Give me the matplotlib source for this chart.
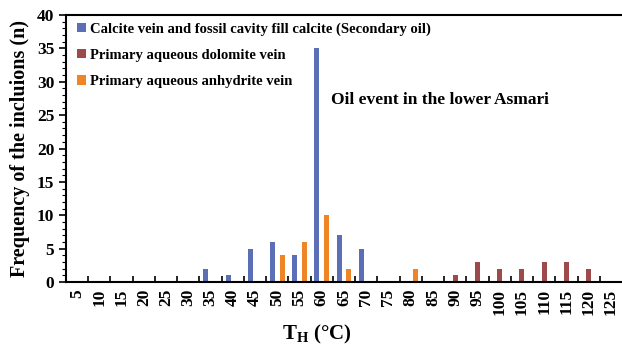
import numpy as np
import matplotlib
matplotlib.use("Agg")
import matplotlib.pyplot as plt
from matplotlib.ticker import MultipleLocator

plt.rcParams['font.family'] = ['Liberation Serif', 'DejaVu Serif']
plt.rcParams['font.weight'] = 'bold'
plt.rcParams['mathtext.fontset'] = 'custom'
plt.rcParams['mathtext.rm'] = 'Liberation Serif:bold'
plt.rcParams['mathtext.bf'] = 'Liberation Serif:bold'

# Datos
categories = [5, 10, 15, 20, 25, 30, 35, 40, 45, 50, 55, 60, 65,
              70, 75, 80, 85, 90, 95, 100, 105, 110, 115, 120, 125]
calcite = [0, 0, 0, 0, 0, 0, 2, 1, 5, 6, 4, 35, 7,
           5, 0, 0, 0, 0, 0, 0, 0, 0, 0, 0, 0]
dolomite = [0, 0, 0, 0, 0, 0, 0, 0, 0, 0, 0, 0, 0,
            0, 0, 0, 0, 1, 3, 2, 2, 3, 3, 2, 0]
anhydrite = [0, 0, 0, 0, 0, 0, 0, 0, 0, 4, 6, 10, 2,
             0, 0, 2, 0, 0, 0, 0, 0, 0, 0, 0, 0]

labels = ["Calcite vein and fossil cavity fill calcite (Secondary oil)",
          "Primary aqueous dolomite vein",
          "Primary aqueous anhydrite vein"]
colors = ["#5B6FB7", "#9C4A4C", "#EE8526"]

x = np.arange(len(categories))
w = 0.215

fig = plt.figure(figsize=(6.22, 3.47), dpi=100)
ax = fig.add_axes([66 / 622, 1 - 282 / 347, 556 / 622, 267 / 347])

ax.bar(x - w, calcite, width=0.225, color=colors[0], label=labels[0])
ax.bar(x, dolomite, width=0.225, color=colors[1], label=labels[1])
ax.bar(x + w, anhydrite, width=0.225, color=colors[2], label=labels[2])

ax.set_xlim(-0.5, len(categories) - 0.5)
ax.set_ylim(0, 40)
ax.set_xticks(x)
ax.set_xticklabels([str(c) for c in categories], rotation=90, fontsize=12.5, fontweight='bold')
ax.set_xticks(x[:-1] + 0.5, minor=True)
ax.tick_params(axis='x', which='major', length=0, pad=5)
ax.tick_params(axis='x', which='minor', direction='in', length=4, width=1.2)

ax.yaxis.set_major_locator(MultipleLocator(5))
ax.yaxis.set_minor_locator(MultipleLocator(1))
ax.tick_params(axis='y', which='major', direction='out', length=5, width=1.2, labelsize=12.5)
ax.tick_params(axis='y', which='minor', direction='out', length=3, width=0.8)
for lab in ax.get_yticklabels():
    lab.set_fontweight('bold')

ax.spines['right'].set_visible(False)
for s in ['left', 'bottom', 'top']:
    ax.spines[s].set_linewidth(1.5)

ax.set_ylabel("Frequency of the incluions (n)", fontsize=14.5, fontweight='bold', labelpad=5)
ax.set_xlabel(r"T$_\mathrm{H}$ (°C)", fontsize=15, fontweight='bold', labelpad=4)
ax.xaxis.set_label_coords(0.451, -0.155)

ax.text(0.476, 0.665, "Oil event in the lower Asmari", transform=ax.transAxes,
        fontsize=12.5, fontweight='bold')

ax.legend(loc='upper left', frameon=False, prop={'weight': 'bold', 'size': 10.5},
          handlelength=0.6, handleheight=0.6, handletextpad=0.25,
          labelspacing=0.9, borderaxespad=0.1, bbox_to_anchor=(0.007, 1.0))

fig.savefig("out.png", dpi=100)
